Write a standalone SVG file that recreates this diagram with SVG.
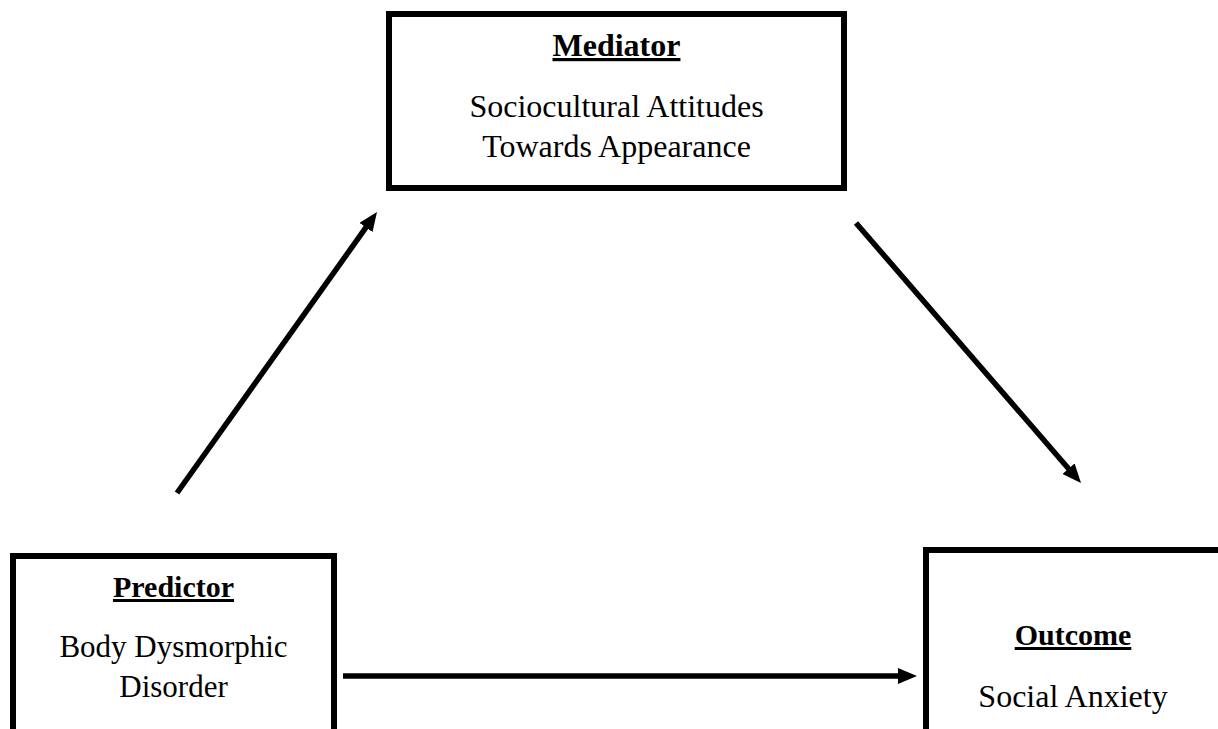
<svg xmlns="http://www.w3.org/2000/svg" width="1218" height="729" viewBox="0 0 1218 729">
  <style>
    .box { fill: #ffffff; stroke: #000000; stroke-width: 6; }
    .title { font-family: "Liberation Serif", "Times New Roman", serif; font-size: 32px; font-weight: bold; text-decoration: underline; fill: #000; text-anchor: middle; }
    .body { font-family: "Liberation Serif", "Times New Roman", serif; font-size: 32px; fill: #000; text-anchor: middle; }
    .conn { stroke: #000000; stroke-width: 5.5; fill: none; marker-end: url(#arrow); }
  </style>
  <defs>
    <marker id="arrow" markerUnits="userSpaceOnUse" markerWidth="19" markerHeight="16" refX="4" refY="8" orient="auto">
      <path d="M0,0 L19,8 L0,16 z" fill="#000000"/>
    </marker>
  </defs>
  <rect width="1218" height="729" fill="#ffffff"/>
  <g id="mediator">
    <rect class="box" x="389" y="14" width="455" height="174"/>
    <text class="title" x="616.5" y="56">Mediator</text>
    <text class="body" x="616.5" y="117">Sociocultural Attitudes</text>
    <text class="body" x="616.5" y="157">Towards Appearance</text>
  </g>
  <g id="predictor">
    <rect class="box" x="13" y="556" width="321" height="200"/>
    <text class="title" x="173.5" y="597" style="font-size:30px">Predictor</text>
    <text class="body" x="173.5" y="657" style="font-size:31px">Body Dysmorphic</text>
    <text class="body" x="173.5" y="697" style="font-size:31px">Disorder</text>
  </g>
  <g id="outcome">
    <rect class="box" x="926" y="550" width="296" height="200"/>
    <text class="title" x="1073" y="645" style="font-size:30px">Outcome</text>
    <text class="body" x="1073" y="707">Social Anxiety</text>
  </g>
  <g id="connectors">
    <line class="conn" x1="177" y1="493" x2="368.3" y2="224.2"/>
    <line class="conn" x1="856" y1="223" x2="1071.2" y2="471.7"/>
    <line class="conn" x1="343" y1="676" x2="902" y2="676"/>
  </g>
</svg>
